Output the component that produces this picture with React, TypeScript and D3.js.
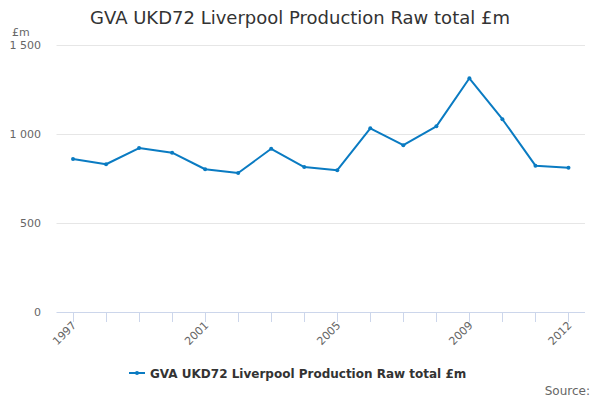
import * as d3 from "d3";
import React, { useEffect, useRef } from "react";

const years = ["1997", "1998", "1999", "2000", "2001", "2002", "2003", "2004",
    "2005", "2006", "2007", "2008", "2009", "2010", "2011", "2012"];
const values = [859, 830, 921, 895, 802, 781, 917, 814, 797, 1032, 937, 1043, 1313, 1083, 822, 811];
const yTicks = [0, 500, 1000, 1500];
const xLabels = ["1997", "2001", "2005", "2009", "2012"];
const seriesName = "GVA UKD72 Liverpool Production Raw total £m";
const titleText = "GVA UKD72 Liverpool Production Raw total £m";

export default function App() {
    const svgRef = useRef<SVGSVGElement | null>(null);

    useEffect(() => {
        if (!svgRef.current) return;
        const svg = d3.select(svgRef.current);
        svg.selectAll("*").remove(); // Clear previous content

        const width = 600;
        const height = 400;
        const font = "'DejaVu Sans', sans-serif";
        const color = "#0a7bc2";
        const left = 56.5;
        const right = 585;
        const top = 45;
        const bottom = 312;

        svg.attr("width", width).attr("height", height)
            .style("font-family", font);

        svg.append("rect").attr("width", width).attr("height", height).attr("fill", "#fff");

        const x = d3.scalePoint<string>().domain(years).range([left, right]).padding(0.5);
        const y = d3.scaleLinear().domain([0, 1500]).range([bottom, top]);

        // Title
        svg.append("text")
            .attr("x", 300)
            .attr("y", 24)
            .attr("text-anchor", "middle")
            .style("font-size", "18px")
            .style("fill", "#333")
            .text(titleText);

        // Gridlines and y labels
        yTicks.forEach((t) => {
            if (t > 0) {
                svg.append("line")
                    .attr("x1", left).attr("x2", right)
                    .attr("y1", y(t) + 0.5).attr("y2", y(t) + 0.5)
                    .attr("stroke", "#e6e6e6");
            }
            svg.append("text")
                .attr("x", 41)
                .attr("y", y(t) + 4)
                .attr("text-anchor", "end")
                .style("font-size", "11px")
                .style("fill", "#666")
                .text(d3.format(",")(t).replace(/,/g, " "));
        });

        svg.append("text")
            .attr("x", 12)
            .attr("y", 36)
            .style("font-size", "11px")
            .style("fill", "#666")
            .text("£m");

        // X axis
        svg.append("line")
            .attr("x1", left).attr("x2", right)
            .attr("y1", bottom + 0.5).attr("y2", bottom + 0.5)
            .attr("stroke", "#ccd6eb");

        years.forEach((yr) => {
            const px = Math.round(x(yr)!) + 0.5;
            svg.append("line")
                .attr("x1", px).attr("x2", px)
                .attr("y1", bottom).attr("y2", bottom + 10)
                .attr("stroke", "#ccd6eb");
        });

        xLabels.forEach((yr) => {
            const px = x(yr)!;
            svg.append("text")
                .attr("transform", `translate(${px + 4},${bottom + 14}) rotate(-45)`)
                .attr("text-anchor", "end")
                .style("font-size", "11px")
                .style("fill", "#666")
                .text(yr);
        });

        // Line
        const line = d3.line<number>()
            .x((_, i) => x(years[i])!)
            .y((d) => y(d));

        svg.append("path")
            .datum(values)
            .attr("d", line)
            .attr("fill", "none")
            .attr("stroke", color)
            .attr("stroke-width", 2)
            .attr("stroke-linejoin", "round");

        svg.selectAll(".dot")
            .data(values)
            .enter()
            .append("circle")
            .attr("class", "dot")
            .attr("cx", (_, i) => x(years[i])!)
            .attr("cy", (d) => y(d))
            .attr("r", 2)
            .attr("fill", color);

        // Legend
        const legendY = 373;
        svg.append("line")
            .attr("x1", 129).attr("x2", 145)
            .attr("y1", legendY).attr("y2", legendY)
            .attr("stroke", color)
            .attr("stroke-width", 2);
        svg.append("circle")
            .attr("cx", 137).attr("cy", legendY).attr("r", 2)
            .attr("fill", color);
        svg.append("text")
            .attr("x", 150)
            .attr("y", legendY + 4.5)
            .style("font-size", "12px")
            .style("font-weight", "bold")
            .style("fill", "#333")
            .text(seriesName);

        // Source
        svg.append("text")
            .attr("x", 590)
            .attr("y", 395)
            .attr("text-anchor", "end")
            .style("font-size", "12px")
            .style("fill", "#666")
            .text("Source:");
    }, []);

    return <svg ref={svgRef} style={{ position: "absolute", left: 0, top: 0 }} />;
}
